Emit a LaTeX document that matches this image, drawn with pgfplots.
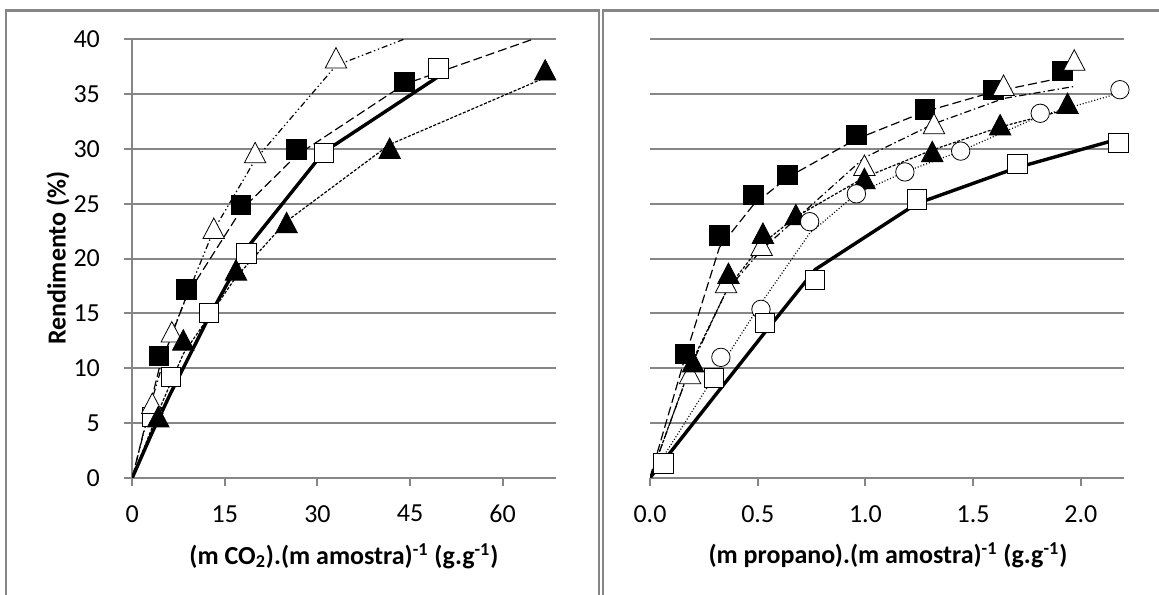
\documentclass[border=0pt]{standalone}
\usepackage{fontspec}
\setmainfont{Carlito}
\usepackage{pgfplots}
\pgfplotsset{compat=1.18}
\definecolor{gridgray}{RGB}{134,134,134}

% left panel (CO2)
\pgfplotstableread{
x y
3.13 5.57
6.2 9.2
12.36 15.06
18.5 20.47
31.0 29.65
49.6 37.35
}\coOpenSq
\pgfplotstableread{
x y
0 0
3.13 4.0
6.2 7.7
12.36 14.6
18.5 20.9
31.0 29.7
49.6 36.6
}\coOpenSqFit

\pgfplotsset{
  panel/.style={
    scale only axis, height=219.2pt,
    ymin=0, ymax=40, ytick={0,5,...,40},
    axis lines*=left,
    axis line style={gridgray, line width=1pt},
    ymajorgrids, grid style={gridgray, line width=1pt},
    tick align=outside, major tick length=4pt,
    tick style={gridgray, line width=1pt},
    ticklabel style={font=\fontsize{13}{15}\selectfont},
    xticklabel style={anchor=north, inner sep=0pt, yshift=-9.6pt},
    yticklabel style={anchor=east, inner sep=0pt, xshift=-12pt},
  },
  fitline/.style={black, line width=0.6pt, mark=none},
  longdash/.style={dash pattern=on 4.5pt off 2pt},
  dashdotdot/.style={dash pattern=on 3pt off 1.4pt on 0.7pt off 1.4pt on 0.7pt off 1.4pt},
  dashdot/.style={dash pattern=on 3.5pt off 1.5pt on 0.7pt off 1.5pt},
  shortdash/.style={dash pattern=on 1.5pt off 0.8pt},
  finedot/.style={dash pattern=on 0.5pt off 1pt},
  mk/.style={only marks, mark options={solid, line width=0.6pt}},
}

\begin{document}
\begin{tikzpicture}
\useasboundingbox (0,0) rectangle (579.5pt,297pt);

% chart frames
\draw[gridgray, line width=1.2pt] (3pt,-2pt) |- (299.5pt,291.65pt) -- (299.5pt,-2pt);
\draw[gridgray, line width=1.2pt] (301.6pt,-2pt) |- (582pt,291.65pt);

\begin{axis}[panel, at={(66.15pt,58.15pt)}, anchor=south west,
  width=211.7pt, xmin=0, xmax=68.6,
  xtick={0,15,30,45,60}, xticklabels={0,15,30,45,60},
  yticklabels={0,5,10,15,20,25,30,35,40},
]
% markers
\addplot[mk, mark=square*, mark size=4.8pt, mark options={fill=white, draw=black}] table {\coOpenSq};
\addplot[mk, mark=square*, mark size=4.8pt, black] coordinates {
  (4.37,11.1) (8.8,17.19) (17.6,24.9) (26.6,29.96) (44.1,36.1)};
\addplot[mk, mark=triangle*, mark size=6.2pt, mark options={fill=white, draw=black, yscale=1.1}] coordinates {
  (3.24,6.48) (6.4,13.0) (13.2,22.45) (19.9,29.35) (33.0,38.0)};
\addplot[mk, mark=triangle*, mark size=6.2pt, black, mark options={yscale=1.1}] coordinates {
  (4.2,5.26) (8.26,12.26) (16.8,18.65) (25.0,22.97) (41.7,29.75) (66.9,36.9)};
% model lines
\addplot[black, line width=1.7pt, mark=none] table {\coOpenSqFit};
\addplot[fitline, longdash] coordinates {
  (0,0) (4.37,10.0) (8.8,16.6) (17.6,24.4) (26.6,29.4) (44.1,35.9) (75,42.0)};
\addplot[fitline, dashdotdot] coordinates {
  (0,0) (3.24,7.2) (6.4,13.2) (13.2,22.6) (19.9,29.0) (33.0,37.6) (60,43.5)};
\addplot[fitline, shortdash] coordinates {
  (0,0) (4.2,6.0) (8.26,11.3) (16.8,18.3) (25.0,23.4) (41.7,30.4) (66.9,36.5)};
\end{axis}

\begin{axis}[panel, at={(325pt,58.15pt)}, anchor=south west,
  width=237pt, xmin=0, xmax=2.2,
  xtick={0,0.5,1,1.5,2}, xticklabels={0.0,0.5,1.0,1.5,2.0},
  yticklabels={}, ytick style={draw=none},
  y axis line style={draw=none},
]
% markers
\addplot[mk, mark=square*, mark size=4.8pt, black] coordinates {
  (0.163,11.29) (0.322,22.1) (0.48,25.8) (0.639,27.6) (0.958,31.27) (1.276,33.6) (1.594,35.4) (1.915,37.1)};
\addplot[mk, mark=triangle*, mark size=6.2pt, mark options={fill=white, draw=black, yscale=1.1}] coordinates {
  (0.186,9.2) (0.353,17.5) (0.518,20.9) (0.995,28.2) (1.318,32.0) (1.641,35.5) (1.969,37.8)};
\addplot[mk, mark=triangle*, mark size=6.2pt, black, mark options={yscale=1.1}] coordinates {
  (0.2,10.28) (0.364,18.34) (0.524,22.0) (0.677,23.7) (0.995,27.0) (1.31,29.45) (1.625,31.9) (1.938,33.85)};
\addplot[mk, mark=*, mark size=4.6pt, mark options={fill=white, draw=black}] coordinates {
  (0.329,10.98) (0.515,15.36) (0.741,23.36) (0.958,25.9) (1.183,27.9) (1.442,29.8) (1.811,33.25) (2.181,35.4)};
\addplot[mk, mark=square*, mark size=4.8pt, mark options={fill=white, draw=black}] coordinates {
  (0.062,1.31) (0.298,9.12) (0.535,14.14) (0.767,18.04) (1.237,25.4) (1.705,28.6) (2.174,30.57)};
% model lines
\addplot[fitline, longdash] coordinates {
  (0,0) (0.163,11.0) (0.322,21.0) (0.48,24.9) (0.639,27.4) (0.958,30.9) (1.276,33.4) (1.594,35.2) (1.915,36.5)};
\addplot[fitline, dashdot] coordinates {
  (0,0) (0.186,10.0) (0.353,17.0) (0.518,20.8) (0.995,29.2) (1.318,32.3) (1.641,34.6) (1.969,35.7)};
\addplot[fitline, shortdash] coordinates {
  (0,0) (0.2,10.8) (0.364,17.4) (0.524,21.4) (0.677,23.8) (0.995,27.4) (1.31,29.9) (1.625,32.0) (1.938,33.6)};
\addplot[fitline, finedot] coordinates {
  (0,0) (0.329,10.2) (0.515,15.9) (0.741,22.3) (0.958,25.9) (1.183,27.9) (1.442,29.8) (1.811,33.0) (2.181,35.1)};
\addplot[black, line width=1.7pt, mark=none] coordinates {
  (0,0) (0.062,1.5) (0.298,7.4) (0.535,13.3) (0.767,19.0) (1.237,25.0) (1.705,28.3) (2.174,30.9)};
\end{axis}

% axis titles
\node[font=\bfseries\fontsize{13}{15}\selectfont] at (172pt,19pt)
  {(m CO\textsubscript{2}).(m amostra)\textsuperscript{-1} (g.g\textsuperscript{-1})};
\node[font=\bfseries\fontsize{13}{15}\selectfont] at (444pt,19.5pt)
  {(m propano).(m amostra)\textsuperscript{-1} (g.g\textsuperscript{-1})};
\node[font=\bfseries\fontsize{13}{15}\selectfont, rotate=90] at (29pt,168pt)
  {Rendimento (\%)};
\end{tikzpicture}
\end{document}
